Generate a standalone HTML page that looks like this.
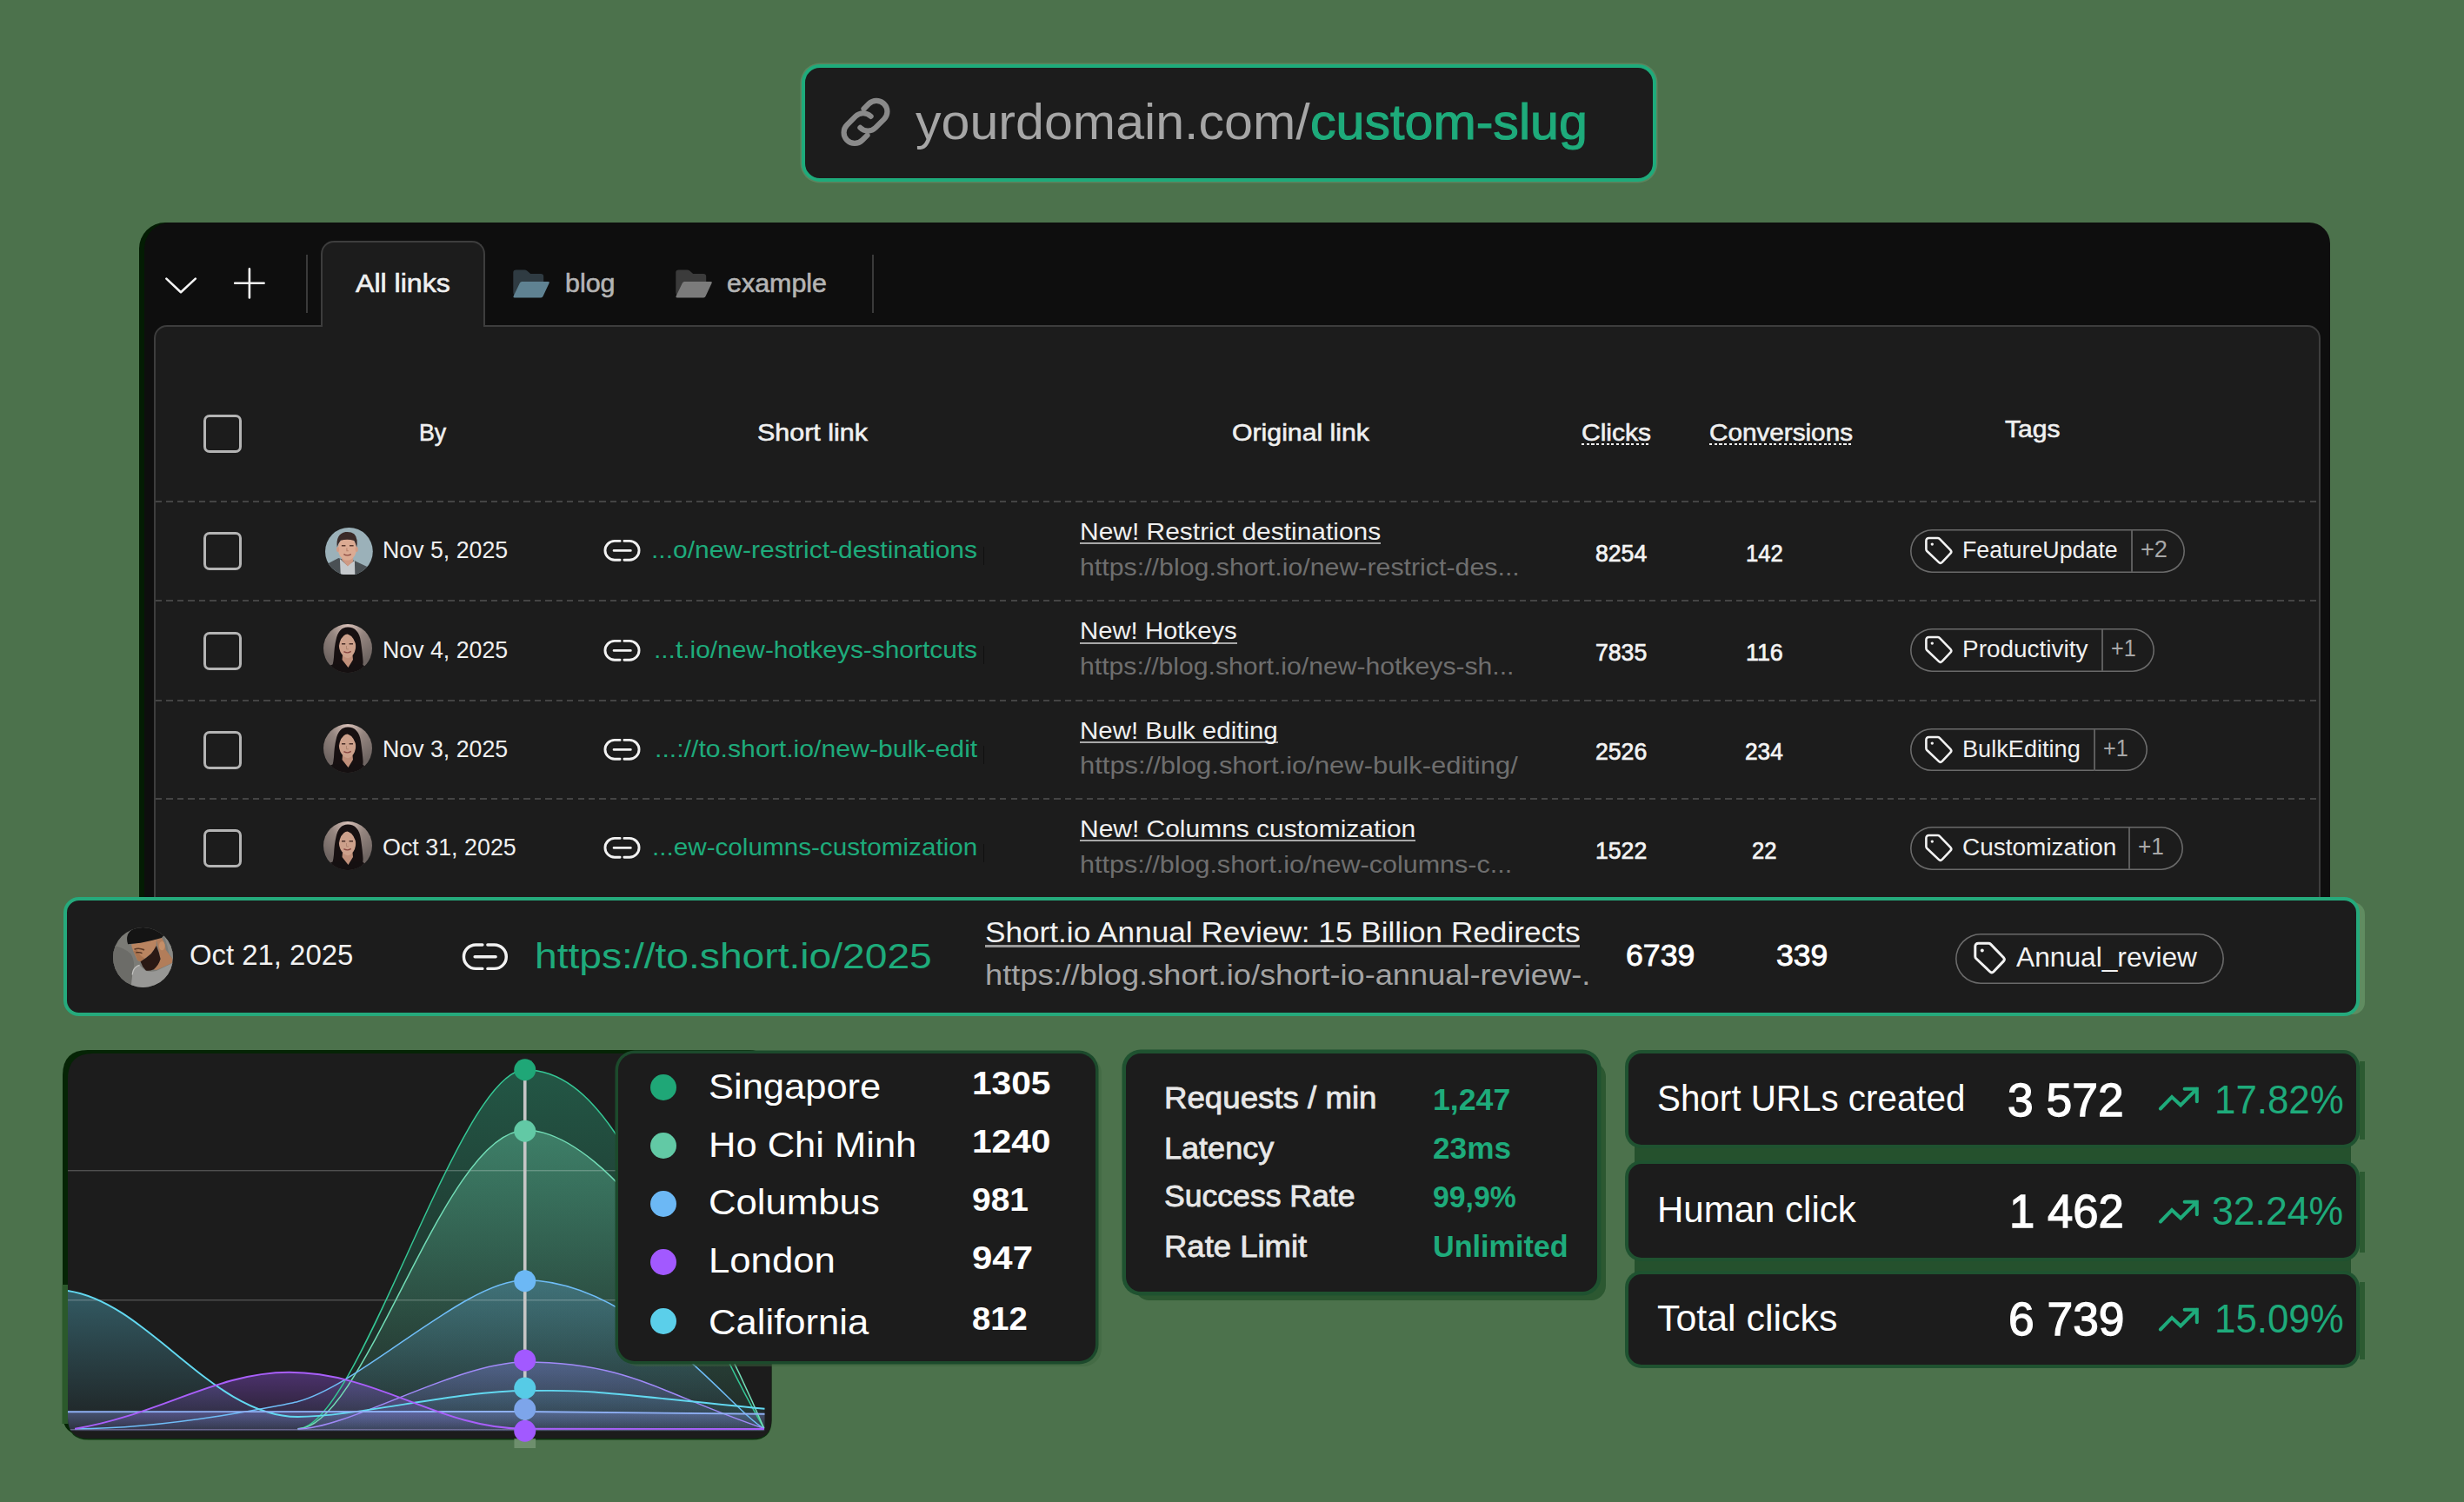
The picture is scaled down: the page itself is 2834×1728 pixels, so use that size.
<!DOCTYPE html><html><head><meta charset="utf-8"><title>Short.io</title><style>
html,body{margin:0;padding:0}
body{width:2834px;height:1728px;background:#4c724c;overflow:hidden;position:relative;font-family:"Liberation Sans",sans-serif;}
.a{position:absolute;box-sizing:border-box}
.t{position:absolute;white-space:nowrap;line-height:1;transform-origin:0 50%;display:block}
.dash{position:absolute;left:179px;width:2489px;height:2px;background:repeating-linear-gradient(90deg,#444444 0 7.4px,transparent 7.4px 12.45px)}
.cb{position:absolute;left:234px;width:44px;height:44px;border:3px solid #b4b4b4;border-radius:7px;box-sizing:border-box}
.pill{position:absolute;box-sizing:border-box;box-shadow:inset 0 0 0 1.6px #6a6a6a;border-radius:30px}
</style></head><body>
<div class="a" style="left:922.00px;top:74.00px;width:983.00px;height:134.50px;background:#1c1c1c;border:4.2px solid #1eab7b;border-radius:21px;box-shadow:0 0 0 1.5px rgba(120,170,130,0.35)"></div>
<svg class="a" style="left:964px;top:109px" width="64" height="64" viewBox="0 0 64 64"><g fill="none" stroke="#8a8a8a" stroke-width="6.2" stroke-linecap="round"><path d="M29.5 16.2L35.2 10.5A12.4 12.4 0 0 1 52.8 28.1L43 37.9A12.4 12.4 0 0 1 25.4 37.9"/><path d="M33.5 46.6L27.8 52.3A12.4 12.4 0 0 1 10.2 34.7L20 24.9A12.4 12.4 0 0 1 37.6 24.9"/></g></svg>
<div class="a" style="left:166.00px;top:256.00px;width:2514.00px;height:844.00px;background:#0e0e0e;border-radius:30px 24px 0 0;box-shadow:-6px 0 0 #031c03"></div>
<div class="a" style="left:177.00px;top:374.00px;width:2492.00px;height:726.00px;background:#1c1c1c;border:2px solid #3d3d3d;border-radius:15px 15px 0 0"></div>
<div class="a" style="left:369.00px;top:277.00px;width:189.00px;height:99.00px;background:#1c1c1c;border:2px solid #3d3d3d;border-bottom:none;border-radius:15px 15px 0 0"></div>
<div class="a" style="left:371.00px;top:373.00px;width:185.00px;height:4.00px;background:#1c1c1c"></div>
<div class="a" style="left:352.00px;top:293.00px;width:2.00px;height:67.00px;background:#3a3a3a"></div>
<div class="a" style="left:1003.00px;top:293.00px;width:2.00px;height:67.00px;background:#3a3a3a"></div>
<svg class="a" style="left:185px;top:305px" width="125" height="42" viewBox="185 305 125 42"><path d="M191.4 320.6L208 336.2L224.8 320.6M270.2 325.8H303.6M286.9 309.4V342.4" fill="none" stroke="#f4f4f4" stroke-width="2.6" stroke-linecap="round" stroke-linejoin="round"/></svg>
<svg class="a" style="left:590px;top:310px" width="44" height="34" viewBox="0 0 44 34"><path d="M0.3 3.6Q0.3 0.4 3.5 0.4H13.4Q15 0.4 16.2 1.5L20.2 4.9H32Q35.2 4.9 35.2 8.1V26Q35.2 30.8 30.4 30.8H5.1Q0.3 30.8 0.3 26Z" fill="#2f3b42"/><path d="M10.4 13.9H40.4Q42.4 13.9 41.6 15.8L34.6 30.8Q33.9 32.4 32.2 32.4H1.9Q-0.2 32.4 0.7 30.5L7.9 15.4Q8.6 13.9 10.4 13.9Z" fill="#5f8292"/></svg>
<svg class="a" style="left:777px;top:310px" width="44" height="34" viewBox="0 0 44 34"><path d="M0.3 3.6Q0.3 0.4 3.5 0.4H13.4Q15 0.4 16.2 1.5L20.2 4.9H32Q35.2 4.9 35.2 8.1V26Q35.2 30.8 30.4 30.8H5.1Q0.3 30.8 0.3 26Z" fill="#3b3b3b"/><path d="M10.4 13.9H40.4Q42.4 13.9 41.6 15.8L34.6 30.8Q33.9 32.4 32.2 32.4H1.9Q-0.2 32.4 0.7 30.5L7.9 15.4Q8.6 13.9 10.4 13.9Z" fill="#7b7b7b"/></svg>
<div class="cb" style="top:476.6px"></div>
<div class="a" style="left:1818.50px;top:509.60px;width:80.00px;height:2.60px;background:repeating-linear-gradient(90deg,#f0f0f0 0 3.1px,transparent 3.1px 5.72px)"></div>
<div class="a" style="left:1965.75px;top:509.60px;width:165.00px;height:2.60px;background:repeating-linear-gradient(90deg,#f0f0f0 0 3.1px,transparent 3.1px 5.72px)"></div>
<div class="dash" style="top:576px"></div>
<div class="dash" style="top:690px"></div>
<div class="dash" style="top:805px"></div>
<div class="dash" style="top:918px"></div>
<div class="cb" style="top:612.30px"></div>
<svg class="a" style="left:694.0px;top:620.4px" width="44" height="27" viewBox="0 0 44 27"><path d="M19.1 2.4H12.9A10.95 10.95 0 0 0 12.9 24.3H19.1M23.9 2.4H30.1A10.95 10.95 0 0 1 30.1 24.3H23.9M12.1 13.4H31.3" fill="none" stroke="#f2f2f2" stroke-width="2.9" stroke-linecap="round"/></svg>
<div class="a" style="left:1130.80px;top:629.00px;width:1.10px;height:21.00px;background:#101010"></div>
<div class="pill" style="left:2197px;top:609.10px;width:316.00px;height:49.8px"></div>
<div class="a" style="left:2451.00px;top:610.00px;width:2.00px;height:48.00px;background:#5c5c5c"></div>
<svg class="a" style="left:2213px;top:617.00px" width="34" height="34" viewBox="0 0 34 34"><path d="M2.4 5.2Q2.4 2 5.6 2H15.6Q16.9 2 17.8 2.9L30.4 15.9Q32.2 17.8 30.4 19.7L20.7 29.9Q18.8 31.8 16.9 29.9L3.3 17Q2.4 16.1 2.4 14.8Z" fill="none" stroke="#f2f2f2" stroke-width="2.6" stroke-linejoin="round"/><circle cx="9.3" cy="9.1" r="1.7" fill="#f2f2f2"/></svg>
<div class="cb" style="top:726.60px"></div>
<svg class="a" style="left:694.0px;top:734.6999999999999px" width="44" height="27" viewBox="0 0 44 27"><path d="M19.1 2.4H12.9A10.95 10.95 0 0 0 12.9 24.3H19.1M23.9 2.4H30.1A10.95 10.95 0 0 1 30.1 24.3H23.9M12.1 13.4H31.3" fill="none" stroke="#f2f2f2" stroke-width="2.9" stroke-linecap="round"/></svg>
<div class="a" style="left:1130.80px;top:743.30px;width:1.10px;height:21.00px;background:#101010"></div>
<div class="pill" style="left:2197px;top:723.40px;width:281.00px;height:49.8px"></div>
<div class="a" style="left:2417.00px;top:724.30px;width:2.00px;height:48.00px;background:#5c5c5c"></div>
<svg class="a" style="left:2213px;top:731.30px" width="34" height="34" viewBox="0 0 34 34"><path d="M2.4 5.2Q2.4 2 5.6 2H15.6Q16.9 2 17.8 2.9L30.4 15.9Q32.2 17.8 30.4 19.7L20.7 29.9Q18.8 31.8 16.9 29.9L3.3 17Q2.4 16.1 2.4 14.8Z" fill="none" stroke="#f2f2f2" stroke-width="2.6" stroke-linejoin="round"/><circle cx="9.3" cy="9.1" r="1.7" fill="#f2f2f2"/></svg>
<div class="cb" style="top:840.80px"></div>
<svg class="a" style="left:694.0px;top:848.9px" width="44" height="27" viewBox="0 0 44 27"><path d="M19.1 2.4H12.9A10.95 10.95 0 0 0 12.9 24.3H19.1M23.9 2.4H30.1A10.95 10.95 0 0 1 30.1 24.3H23.9M12.1 13.4H31.3" fill="none" stroke="#f2f2f2" stroke-width="2.9" stroke-linecap="round"/></svg>
<div class="a" style="left:1130.80px;top:857.50px;width:1.10px;height:21.00px;background:#101010"></div>
<div class="pill" style="left:2197px;top:837.60px;width:272.50px;height:49.8px"></div>
<div class="a" style="left:2408.00px;top:838.50px;width:2.00px;height:48.00px;background:#5c5c5c"></div>
<svg class="a" style="left:2213px;top:845.50px" width="34" height="34" viewBox="0 0 34 34"><path d="M2.4 5.2Q2.4 2 5.6 2H15.6Q16.9 2 17.8 2.9L30.4 15.9Q32.2 17.8 30.4 19.7L20.7 29.9Q18.8 31.8 16.9 29.9L3.3 17Q2.4 16.1 2.4 14.8Z" fill="none" stroke="#f2f2f2" stroke-width="2.6" stroke-linejoin="round"/><circle cx="9.3" cy="9.1" r="1.7" fill="#f2f2f2"/></svg>
<div class="cb" style="top:954.30px"></div>
<svg class="a" style="left:694.0px;top:962.4px" width="44" height="27" viewBox="0 0 44 27"><path d="M19.1 2.4H12.9A10.95 10.95 0 0 0 12.9 24.3H19.1M23.9 2.4H30.1A10.95 10.95 0 0 1 30.1 24.3H23.9M12.1 13.4H31.3" fill="none" stroke="#f2f2f2" stroke-width="2.9" stroke-linecap="round"/></svg>
<div class="a" style="left:1130.80px;top:971.00px;width:1.10px;height:21.00px;background:#101010"></div>
<div class="pill" style="left:2197px;top:951.10px;width:313.70px;height:49.8px"></div>
<div class="a" style="left:2448.00px;top:952.00px;width:2.00px;height:48.00px;background:#5c5c5c"></div>
<svg class="a" style="left:2213px;top:959.00px" width="34" height="34" viewBox="0 0 34 34"><path d="M2.4 5.2Q2.4 2 5.6 2H15.6Q16.9 2 17.8 2.9L30.4 15.9Q32.2 17.8 30.4 19.7L20.7 29.9Q18.8 31.8 16.9 29.9L3.3 17Q2.4 16.1 2.4 14.8Z" fill="none" stroke="#f2f2f2" stroke-width="2.6" stroke-linejoin="round"/><circle cx="9.3" cy="9.1" r="1.7" fill="#f2f2f2"/></svg>
<svg class="a" style="left:374.00px;top:606.60px" width="54.80" height="54.80" viewBox="-27.40 -27.40 54.80 54.80"><defs><clipPath id="av9"><circle cx="0" cy="0" r="27.40"/></clipPath></defs><g clip-path="url(#av9)"><rect x="-30" y="-30" width="60" height="60" fill="#9bb1b9"/><path d="M-30 17L-12 7.5L-8 9L5 10L23 18.5L30 24V30H-30Z" fill="#4a5054"/><path d="M-10.5 8.5L-2 16L6.5 10.5L7 30H-9.5Z" fill="#c5c9cc"/><path d="M-8.5 4H4.5L4.8 11.5L-1.5 17L-8 10Z" fill="#cf9a84"/><ellipse cx="-2" cy="-3.2" rx="10.6" ry="13.4" fill="#dcab93"/><ellipse cx="-12.8" cy="-2.5" rx="1.6" ry="3" fill="#d19c86"/><ellipse cx="8.8" cy="-2.5" rx="1.6" ry="3" fill="#d19c86"/><path d="M-13.6 -5Q-15.5 -20 -4 -22.4Q8 -23.4 9.2 -13Q9.6 -8 8.8 -5Q7.6 -9.5 6 -12.5Q-2 -14.5 -9.5 -12.6Q-12.4 -9.5 -13.6 -5Z" fill="#3a2a28"/><path d="M-8.5 -6.6H-4M0.6 -6.6H5.2" stroke="#5a3a30" stroke-width="1.5" fill="none"/><path d="M-6 3.2Q-2 5.8 2.4 3.2" stroke="#8a4a40" stroke-width="1.3" fill="none"/><path d="M-2.5 -4V-0.6H-0.6" stroke="#b9826c" stroke-width="1.1" fill="none"/></g></svg>
<svg class="a" style="left:372.20px;top:718.30px" width="56.00" height="56.00" viewBox="-28.00 -28.00 56.00 56.00"><defs><clipPath id="av11"><circle cx="0" cy="0" r="28.00"/></clipPath><radialGradient id="ag10" cx="0.5" cy="0.05" r="0.75"><stop offset="0" stop-color="#d8c0b8"/><stop offset="0.45" stop-color="#94857f"/><stop offset="1" stop-color="#6f6562"/></radialGradient></defs><g clip-path="url(#av11)"><rect x="-30" y="-30" width="60" height="60" fill="url(#ag10)"/><path d="M0 -24.5Q12.5 -24.5 15 -8Q17 6 17.5 14Q18 21 15 30H-22Q-17 22 -16 10Q-15.5 -2 -13.5 -10Q-10.5 -24.5 0 -24.5Z" fill="#171011"/><path d="M-30 30V26Q-22 19 -15 18H15Q22 20 26 30Z" fill="#151011"/><path d="M-6 8H5.5L6 13L0.5 22L-6.5 13Z" fill="#c08f7a"/><path d="M-0.5 -16.5Q8.8 -16 9.3 -4Q9.3 5.5 3.5 10Q0 12.3 -3.5 10Q-10 5.5 -10.2 -4Q-9.8 -16 -0.5 -16.5Z" fill="#cda08b"/><path d="M-0.8 -17Q-9 -14 -10.4 -1Q-11.5 -12 -8 -18Q-4 -21.5 -0.8 -21.5Q5 -21.5 8 -18Q11 -12 9.6 -1Q8.5 -13 -0.8 -17Z" fill="#171011"/><path d="M-7 -5.2H-2.8M1.6 -5.2H6" stroke="#4a2e28" stroke-width="1.4" fill="none"/><path d="M-4.6 3.6Q-0.4 6.2 3.8 3.4" stroke="#8c4a44" stroke-width="1.4" fill="none"/><path d="M-1.5 -3V0.8H0.8" stroke="#b08470" stroke-width="1" fill="none"/></g></svg>
<svg class="a" style="left:372.20px;top:832.80px" width="56.00" height="56.00" viewBox="-28.00 -28.00 56.00 56.00"><defs><clipPath id="av13"><circle cx="0" cy="0" r="28.00"/></clipPath><radialGradient id="ag12" cx="0.5" cy="0.05" r="0.75"><stop offset="0" stop-color="#d8c0b8"/><stop offset="0.45" stop-color="#94857f"/><stop offset="1" stop-color="#6f6562"/></radialGradient></defs><g clip-path="url(#av13)"><rect x="-30" y="-30" width="60" height="60" fill="url(#ag12)"/><path d="M0 -24.5Q12.5 -24.5 15 -8Q17 6 17.5 14Q18 21 15 30H-22Q-17 22 -16 10Q-15.5 -2 -13.5 -10Q-10.5 -24.5 0 -24.5Z" fill="#171011"/><path d="M-30 30V26Q-22 19 -15 18H15Q22 20 26 30Z" fill="#151011"/><path d="M-6 8H5.5L6 13L0.5 22L-6.5 13Z" fill="#c08f7a"/><path d="M-0.5 -16.5Q8.8 -16 9.3 -4Q9.3 5.5 3.5 10Q0 12.3 -3.5 10Q-10 5.5 -10.2 -4Q-9.8 -16 -0.5 -16.5Z" fill="#cda08b"/><path d="M-0.8 -17Q-9 -14 -10.4 -1Q-11.5 -12 -8 -18Q-4 -21.5 -0.8 -21.5Q5 -21.5 8 -18Q11 -12 9.6 -1Q8.5 -13 -0.8 -17Z" fill="#171011"/><path d="M-7 -5.2H-2.8M1.6 -5.2H6" stroke="#4a2e28" stroke-width="1.4" fill="none"/><path d="M-4.6 3.6Q-0.4 6.2 3.8 3.4" stroke="#8c4a44" stroke-width="1.4" fill="none"/><path d="M-1.5 -3V0.8H0.8" stroke="#b08470" stroke-width="1" fill="none"/></g></svg>
<svg class="a" style="left:372.20px;top:944.50px" width="56.00" height="56.00" viewBox="-28.00 -28.00 56.00 56.00"><defs><clipPath id="av15"><circle cx="0" cy="0" r="28.00"/></clipPath><radialGradient id="ag14" cx="0.5" cy="0.05" r="0.75"><stop offset="0" stop-color="#d8c0b8"/><stop offset="0.45" stop-color="#94857f"/><stop offset="1" stop-color="#6f6562"/></radialGradient></defs><g clip-path="url(#av15)"><rect x="-30" y="-30" width="60" height="60" fill="url(#ag14)"/><path d="M0 -24.5Q12.5 -24.5 15 -8Q17 6 17.5 14Q18 21 15 30H-22Q-17 22 -16 10Q-15.5 -2 -13.5 -10Q-10.5 -24.5 0 -24.5Z" fill="#171011"/><path d="M-30 30V26Q-22 19 -15 18H15Q22 20 26 30Z" fill="#151011"/><path d="M-6 8H5.5L6 13L0.5 22L-6.5 13Z" fill="#c08f7a"/><path d="M-0.5 -16.5Q8.8 -16 9.3 -4Q9.3 5.5 3.5 10Q0 12.3 -3.5 10Q-10 5.5 -10.2 -4Q-9.8 -16 -0.5 -16.5Z" fill="#cda08b"/><path d="M-0.8 -17Q-9 -14 -10.4 -1Q-11.5 -12 -8 -18Q-4 -21.5 -0.8 -21.5Q5 -21.5 8 -18Q11 -12 9.6 -1Q8.5 -13 -0.8 -17Z" fill="#171011"/><path d="M-7 -5.2H-2.8M1.6 -5.2H6" stroke="#4a2e28" stroke-width="1.4" fill="none"/><path d="M-4.6 3.6Q-0.4 6.2 3.8 3.4" stroke="#8c4a44" stroke-width="1.4" fill="none"/><path d="M-1.5 -3V0.8H0.8" stroke="#b08470" stroke-width="1" fill="none"/></g></svg>
<div class="a" style="left:1241.75px;top:624.40px;width:346.25px;height:2.00px;background:#a8a8a8"></div>
<div class="a" style="left:1241.75px;top:738.70px;width:180.75px;height:2.00px;background:#a8a8a8"></div>
<div class="a" style="left:1241.75px;top:852.90px;width:227.75px;height:2.00px;background:#a8a8a8"></div>
<div class="a" style="left:1241.75px;top:966.40px;width:386.25px;height:2.00px;background:#a8a8a8"></div>
<div class="a" style="left:73.00px;top:1031.50px;width:2641.00px;height:137.50px;background:#1c1c1c;border:4px solid #25aa7c;border-radius:18px;box-shadow:10px 2px 0 -4px rgba(115,165,115,0.5)"></div>
<div class="a" style="left:1132.50px;top:1087.00px;width:684.50px;height:2.50px;background:#9c9c9c"></div>
<svg class="a" style="left:531.0px;top:1083.6px" width="55" height="33.75" viewBox="0 0 44 27"><path d="M19.1 2.4H12.9A10.95 10.95 0 0 0 12.9 24.3H19.1M23.9 2.4H30.1A10.95 10.95 0 0 1 30.1 24.3H23.9M12.1 13.4H31.3" fill="none" stroke="#f2f2f2" stroke-width="2.75" stroke-linecap="round"/></svg>
<div class="pill" style="left:2249px;top:1073.5px;width:308.5px;height:58px;border-color:#656565"></div>
<svg class="a" style="left:2268.5px;top:1083px" width="39.5" height="39.5" viewBox="0 0 34 34"><path d="M2.4 5.2Q2.4 2 5.6 2H15.6Q16.9 2 17.8 2.9L30.4 15.9Q32.2 17.8 30.4 19.7L20.7 29.9Q18.8 31.8 16.9 29.9L3.3 17Q2.4 16.1 2.4 14.8Z" fill="none" stroke="#f2f2f2" stroke-width="2.6" stroke-linejoin="round"/><circle cx="9.3" cy="9.1" r="1.7" fill="#f2f2f2"/></svg>
<svg class="a" style="left:130.10px;top:1066.50px" width="69.00" height="69.00" viewBox="-34.50 -34.50 69.00 69.00"><defs><clipPath id="av16"><circle cx="0" cy="0" r="34.50"/></clipPath></defs><g clip-path="url(#av16)"><rect x="-36" y="-36" width="72" height="72" fill="#7b7b76"/><path d="M-36 -14Q-22 -12 -14 -4Q-9 4 -11 14L-14 36H-36Z" fill="#6c6c68"/><path d="M24 -26L36 -20V4L30 -4Q28 -14 24 -26Z" fill="#8a8a86"/><path d="M15.3 -21L21.3 -22.8Q25.5 -17 26.1 -9L33.9 1.8L33.3 6.6L15.3 14.4L12.3 13.8L20.1 1.8Z" fill="#b27d5a"/><path d="M-13.5 -15L15.3 -21V-12.6L9.3 -4.2L-2.7 4.8L-6.3 3.6Q-9 -2 -11.1 -7.2Q-12.8 -11 -13.5 -15Z" fill="#b98460"/><path d="M-11.1 -7.2Q-8 -2 -6.3 3.6L-2.7 4.8L2 1Q-4 -2 -7 -9Z" fill="#a8734f"/><ellipse cx="21.8" cy="-13.4" rx="3.4" ry="5.2" fill="#c58f68"/><path d="M15.3 -13.5Q18.5 -6 20.1 1.8Q18 9 12.3 13.8Q7 16 3.3 15Q-1 11 -2.9 4.8Q3 1.5 9.3 -4.2Q13 -9 15.3 -13.5Z" fill="#2a1914"/><path d="M-10 -9.3Q-5 -11.5 1.5 -8.6" stroke="#5d3b27" stroke-width="1.7" fill="none"/><path d="M-8.2 -5.6Q-4.5 -6.6 -1 -4.8" stroke="#4a2c1e" stroke-width="1.3" fill="none"/><path d="M-18.3 -23.4Q-17.5 -30 -10 -33.5Q2 -36.5 12.3 -33Q20 -30.5 24.3 -25.8L21.3 -22.4Q10 -19 -2.7 -16.8L-17.4 -15.2Q-18.8 -19 -18.3 -23.4Z" fill="#141414"/><path d="M-14 36L-12.3 19.8Q-11.5 13.5 -8.7 11.4Q-6 9 -3.9 9Q0 13.5 3.3 15.6Q9 17 15.3 15.6L33.9 6.6L36 8V36Z" fill="#979795"/><path d="M-12.3 19.8Q-11.5 13.5 -8.7 11.4Q-6 9 -3.9 9" stroke="#c2c2c0" stroke-width="1.3" fill="none"/></g></svg>
<svg class="a" style="left:60px;top:1195px" width="850" height="490" viewBox="60 1195 850 490"><defs><clipPath id="cp"><path d="M107.0 1212.0H867.5Q887.5 1212.0 887.5 1232.0V1633.0Q887.5 1655.0 865.5 1655.0H102.0Q78.0 1655.0 78.0 1631.0V1241.0Q78.0 1212.0 107.0 1212.0Z"/></clipPath><linearGradient id="f_g1" gradientUnits="userSpaceOnUse" x1="0" y1="1230.8" x2="0" y2="1646.3"><stop offset="0" stop-color="#2fbf8f" stop-opacity="0.36"/><stop offset="1" stop-color="#2fbf8f" stop-opacity="0.03"/></linearGradient><linearGradient id="f_g2" gradientUnits="userSpaceOnUse" x1="0" y1="1300.5" x2="0" y2="1646.3"><stop offset="0" stop-color="#6fd6b0" stop-opacity="0.36"/><stop offset="1" stop-color="#6fd6b0" stop-opacity="0.03"/></linearGradient><linearGradient id="f_bl" gradientUnits="userSpaceOnUse" x1="0" y1="1472.8" x2="0" y2="1646.3"><stop offset="0" stop-color="#6cb8f5" stop-opacity="0.28"/><stop offset="1" stop-color="#6cb8f5" stop-opacity="0.03"/></linearGradient><linearGradient id="f_pb" gradientUnits="userSpaceOnUse" x1="0" y1="1567.0" x2="0" y2="1646.3"><stop offset="0" stop-color="#8f86f5" stop-opacity="0.34"/><stop offset="1" stop-color="#8f86f5" stop-opacity="0.05"/></linearGradient><linearGradient id="f_cy" gradientUnits="userSpaceOnUse" x1="0" y1="1485.0" x2="0" y2="1646.3"><stop offset="0" stop-color="#5fd4ee" stop-opacity="0.34"/><stop offset="1" stop-color="#5fd4ee" stop-opacity="0.03"/></linearGradient><linearGradient id="f_pw" gradientUnits="userSpaceOnUse" x1="0" y1="1624.0" x2="0" y2="1646.3"><stop offset="0" stop-color="#8a9cf0" stop-opacity="0.36"/><stop offset="1" stop-color="#8a9cf0" stop-opacity="0.12"/></linearGradient><linearGradient id="f_pa" gradientUnits="userSpaceOnUse" x1="0" y1="1578.8" x2="0" y2="1646.3"><stop offset="0" stop-color="#a259ff" stop-opacity="0.36"/><stop offset="1" stop-color="#a259ff" stop-opacity="0.03"/></linearGradient></defs><path d="M107.0 1212.0H867.5Q887.5 1212.0 887.5 1232.0V1633.0Q887.5 1655.0 865.5 1655.0H102.0Q78.0 1655.0 78.0 1631.0V1241.0Q78.0 1212.0 107.0 1212.0Z" transform="translate(-6,-4)" fill="#052405"/><rect x="71.5" y="1478" width="8" height="160" fill="#2b592b"/><path d="M107.0 1212.0H867.5Q887.5 1212.0 887.5 1232.0V1633.0Q887.5 1655.0 865.5 1655.0H102.0Q78.0 1655.0 78.0 1631.0V1241.0Q78.0 1212.0 107.0 1212.0Z" transform="translate(0,1.5)" fill="#0c330e"/><path d="M107.0 1212.0H867.5Q887.5 1212.0 887.5 1232.0V1633.0Q887.5 1655.0 865.5 1655.0H102.0Q78.0 1655.0 78.0 1631.0V1241.0Q78.0 1212.0 107.0 1212.0Z" fill="#1c1c1c"/><g clip-path="url(#cp)"><path d="M342.5 1643.8C412.6 1643.8 527.6 1230.8 603.8 1230.8C719.6 1230.8 772.4 1460.1 878.8 1643.4L878.8 1646.3L342.5 1646.3Z" fill="url(#f_g1)"/><path d="M342.5 1643.8C419.8 1643.8 510.8 1300.5 603.8 1300.5C603.8 1300.5 723.6 1281.2 878.8 1643.4L878.8 1646.3L342.5 1646.3Z" fill="url(#f_g2)"/><path d="M86.2 1643.8C199.5 1643.8 336.4 1614.2 342.5 1612.5C417.7 1591.9 534.6 1472.8 603.8 1472.8C732.5 1472.8 844.9 1626.4 878.8 1643.4L878.8 1646.3L86.2 1646.3Z" fill="url(#f_bl)"/><path d="M342.5 1644.0C400.5 1644.0 525.3 1567.0 603.8 1567.0C723.1 1567.0 761.1 1603.9 878.8 1643.4L878.8 1646.3L342.5 1646.3Z" fill="url(#f_pb)"/><path d="M78.0 1485.0C171.7 1499.1 243.5 1630.0 342.5 1630.0C407.5 1630.0 527.5 1600.0 603.8 1600.0C680.7 1600.0 638.6 1596.5 879.5 1620.8L879.5 1646.3L78.0 1646.3Z" fill="url(#f_cy)"/><path d="M78.0 1624.2L603.8 1624.0L879.5 1626.8L879.5 1646.3L78.0 1646.3Z" fill="url(#f_pw)"/><path d="M86.2 1643.8C184.4 1627.4 249.1 1578.8 332.5 1578.8C434.7 1578.8 504.4 1643.8 603.8 1643.8L878.8 1644.0L878.8 1646.3L86.2 1646.3Z" fill="url(#f_pa)"/><rect x="78.0" y="1346.15" width="809.5" height="1.2" fill="#ffffff" fill-opacity="0.27"/><rect x="78.0" y="1495.15" width="809.5" height="1.2" fill="#ffffff" fill-opacity="0.27"/><rect x="78.0" y="1644.1" width="800.5" height="1.2" fill="#b0a0e0" fill-opacity="0.5"/><path d="M342.5 1643.8C412.6 1643.8 527.6 1230.8 603.8 1230.8C719.6 1230.8 772.4 1460.1 878.8 1643.4" fill="none" stroke="#35c795" stroke-width="1.5"/><path d="M342.5 1643.8C419.8 1643.8 510.8 1300.5 603.8 1300.5C603.8 1300.5 723.6 1281.2 878.8 1643.4" fill="none" stroke="#72dcb6" stroke-width="1.5"/><path d="M86.2 1643.8C199.5 1643.8 336.4 1614.2 342.5 1612.5C417.7 1591.9 534.6 1472.8 603.8 1472.8C732.5 1472.8 844.9 1626.4 878.8 1643.4" fill="none" stroke="#6fbdf7" stroke-width="1.5"/><path d="M342.5 1644.0C400.5 1644.0 525.3 1567.0 603.8 1567.0C723.1 1567.0 761.1 1603.9 878.8 1643.4" fill="none" stroke="#a08af8" stroke-width="1.5"/><path d="M78.0 1485.0C171.7 1499.1 243.5 1630.0 342.5 1630.0C407.5 1630.0 527.5 1600.0 603.8 1600.0C680.7 1600.0 638.6 1596.5 879.5 1620.8" fill="none" stroke="#62d8f0" stroke-width="1.9"/><path d="M78.0 1624.2L603.8 1624.0L879.5 1626.8" fill="none" stroke="#8fb0f5" stroke-width="1.9"/><path d="M86.2 1643.8C184.4 1627.4 249.1 1578.8 332.5 1578.8C434.7 1578.8 504.4 1643.8 603.8 1643.8L878.8 1644.0" fill="none" stroke="#a95ffb" stroke-width="1.9"/></g><rect x="601.95" y="1232" width="3.6" height="423.0" fill="#c6c6c6"/><rect x="591.45" y="1655.0" width="24.6" height="11" fill="#7a9a78" fill-opacity="0.75"/><circle cx="603.75" cy="1230.75" r="12.5" fill="#1fa777"/><circle cx="603.75" cy="1301.25" r="12.5" fill="#62c9a5"/><circle cx="603.75" cy="1473.75" r="12.5" fill="#6cb8f5"/><circle cx="603.75" cy="1565.0" r="12.5" fill="#a259ff"/><circle cx="603.75" cy="1597.0" r="12.5" fill="#56cbe6"/><circle cx="603.75" cy="1621.25" r="12.5" fill="#7da5ea"/><circle cx="603.75" cy="1646.25" r="12.5" fill="#a259ff"/></svg>
<div class="a" style="left:711.25px;top:1212.00px;width:548.75px;height:354.25px;background:#1c1c1c;border-radius:19px;box-shadow:0 0 0 3.5px #1c4a2c,5px 4px 0 2px rgba(60,100,62,0.5)"></div>
<div class="a" style="left:747.75px;top:1235.75px;width:30.00px;height:30.00px;background:#1fa777;border-radius:50%"></div>
<div class="a" style="left:747.75px;top:1302.50px;width:30.00px;height:30.00px;background:#62c9a5;border-radius:50%"></div>
<div class="a" style="left:747.75px;top:1370.00px;width:30.00px;height:30.00px;background:#6cb8f5;border-radius:50%"></div>
<div class="a" style="left:747.75px;top:1437.20px;width:30.00px;height:30.00px;background:#a259ff;border-radius:50%"></div>
<div class="a" style="left:747.75px;top:1504.60px;width:30.00px;height:30.00px;background:#5bcfea;border-radius:50%"></div>
<div class="a" style="left:1295.00px;top:1212.00px;width:542.00px;height:273.75px;background:#1c1c1c;border-radius:17px;box-shadow:0 0 0 4.5px #1f5230,10px 10px 0 0 #2c5831"></div>
<div class="a" style="left:1880.00px;top:1232.00px;width:824.00px;height:328.00px;background:#25512d;border-radius:12px"></div>
<div class="a" style="left:1872.50px;top:1212.00px;width:837.50px;height:104.75px;background:#1c1c1c;border-radius:15px;box-shadow:0 0 0 4px #1f5230"></div>
<div class="a" style="left:1872.50px;top:1338.75px;width:837.50px;height:108.00px;background:#1c1c1c;border-radius:15px;box-shadow:0 0 0 4px #1f5230"></div>
<div class="a" style="left:1872.50px;top:1465.50px;width:837.50px;height:104.30px;background:#1c1c1c;border-radius:15px;box-shadow:0 0 0 4px #1f5230"></div>
<div class="a" style="left:2713.50px;top:1221.00px;width:6.50px;height:89.75px;background:#2c5a31"></div>
<div class="a" style="left:2713.50px;top:1347.75px;width:6.50px;height:93.00px;background:#2c5a31"></div>
<div class="a" style="left:2713.50px;top:1474.50px;width:6.50px;height:89.30px;background:#2c5a31"></div>
<svg class="a" style="left:2480px;top:1249.25px" width="52" height="32" viewBox="0 0 52 32"><path d="M4.9 26.5L18 13L28.1 22.5L46.8 3.7M32.6 3.7H46.8V18.2" fill="none" stroke="#1eab7b" stroke-width="4" stroke-linecap="round" stroke-linejoin="miter"/></svg>
<svg class="a" style="left:2480px;top:1379.25px" width="52" height="32" viewBox="0 0 52 32"><path d="M4.9 26.5L18 13L28.1 22.5L46.8 3.7M32.6 3.7H46.8V18.2" fill="none" stroke="#1eab7b" stroke-width="4" stroke-linecap="round" stroke-linejoin="miter"/></svg>
<svg class="a" style="left:2480px;top:1502.50px" width="52" height="32" viewBox="0 0 52 32"><path d="M4.9 26.5L18 13L28.1 22.5L46.8 3.7M32.6 3.7H46.8V18.2" fill="none" stroke="#1eab7b" stroke-width="4" stroke-linecap="round" stroke-linejoin="miter"/></svg>
<span class="t" style="top:110.70px;font-size:58px;color:#a6a6a6;left:1053.40px;transform:scaleX(1.0199);">yourdomain.com/</span>
<span class="t" style="top:110.70px;font-size:58px;color:#1eab7b;-webkit-text-stroke:1.1px #1eab7b;left:1507.12px;transform:scaleX(1.0199);">custom-slug</span>
<span class="t" style="top:311.28px;font-size:29.5px;color:#f0f0f0;-webkit-text-stroke:0.6px #f0f0f0;left:408.75px;transform:scaleX(1.0875);">All links</span>
<span class="t" style="top:311.28px;font-size:29.5px;color:#b4b4b4;-webkit-text-stroke:0.6px #b4b4b4;left:650.00px;transform:scaleX(1.0308);">blog</span>
<span class="t" style="top:311.28px;font-size:29.5px;color:#b4b4b4;-webkit-text-stroke:0.6px #b4b4b4;left:836.00px;transform:scaleX(1.0312);">example</span>
<span class="t" style="top:484.10px;font-size:28px;color:#f0f0f0;-webkit-text-stroke:0.6px #f0f0f0;left:481.75px;transform:scaleX(0.9560);">By</span>
<span class="t" style="top:484.10px;font-size:28px;color:#f0f0f0;-webkit-text-stroke:0.6px #f0f0f0;left:871.00px;transform:scaleX(1.0881);">Short link</span>
<span class="t" style="top:484.10px;font-size:28px;color:#f0f0f0;-webkit-text-stroke:0.6px #f0f0f0;left:1417.00px;transform:scaleX(1.0801);">Original link</span>
<span class="t" style="top:484.10px;font-size:28px;color:#f0f0f0;-webkit-text-stroke:0.6px #f0f0f0;left:1818.50px;transform:scaleX(1.0714);">Clicks</span>
<span class="t" style="top:484.10px;font-size:28px;color:#f0f0f0;-webkit-text-stroke:0.6px #f0f0f0;left:1965.75px;transform:scaleX(1.0601);">Conversions</span>
<span class="t" style="top:480.05px;font-size:28px;color:#f0f0f0;-webkit-text-stroke:0.6px #f0f0f0;left:2306.00px;transform:scaleX(1.0734);">Tags</span>
<span class="t" style="top:619.30px;font-size:28px;color:#f0f0f0;left:439.50px;transform:scaleX(0.9553);">Nov 5, 2025</span>
<span class="t" style="top:619.30px;font-size:28px;color:#1eab7b;left:748.75px;transform:scaleX(1.0710);">...o/new-restrict-destinations</span>
<span class="t" style="top:598.10px;font-size:28px;color:#f0f0f0;left:1241.75px;transform:scaleX(1.0697);">New! Restrict destinations</span>
<span class="t" style="top:638.80px;font-size:28px;color:#6e6e6e;left:1241.75px;transform:scaleX(1.0833);">https://blog.short.io/new-restrict-des...</span>
<span class="t" style="top:622.92px;font-size:27.5px;color:#f4f4f4;-webkit-text-stroke:0.7px #f4f4f4;left:1835.00px;transform:scaleX(0.9683);">8254</span>
<span class="t" style="top:622.92px;font-size:27.5px;color:#f4f4f4;-webkit-text-stroke:0.7px #f4f4f4;left:2008.00px;transform:scaleX(0.9316);">142</span>
<span class="t" style="top:620.14px;font-size:27px;color:#f0f0f0;left:2256.75px;transform:scaleX(0.9924);">FeatureUpdate</span>
<span class="t" style="top:619.14px;font-size:27px;color:#a8a8a8;left:2462.00px;transform:scaleX(1.0066);">+2</span>
<span class="t" style="top:733.60px;font-size:28px;color:#f0f0f0;left:439.50px;transform:scaleX(0.9553);">Nov 4, 2025</span>
<span class="t" style="top:733.60px;font-size:28px;color:#1eab7b;left:751.75px;transform:scaleX(1.0672);">...t.io/new-hotkeys-shortcuts</span>
<span class="t" style="top:712.40px;font-size:28px;color:#f0f0f0;left:1241.75px;transform:scaleX(1.0465);">New! Hotkeys</span>
<span class="t" style="top:753.10px;font-size:28px;color:#6e6e6e;left:1241.75px;transform:scaleX(1.0770);">https://blog.short.io/new-hotkeys-sh...</span>
<span class="t" style="top:737.22px;font-size:27.5px;color:#f4f4f4;-webkit-text-stroke:0.7px #f4f4f4;left:1835.00px;transform:scaleX(0.9683);">7835</span>
<span class="t" style="top:737.22px;font-size:27.5px;color:#f4f4f4;-webkit-text-stroke:0.7px #f4f4f4;left:2008.00px;transform:scaleX(0.9751);">116</span>
<span class="t" style="top:734.44px;font-size:27px;color:#f0f0f0;left:2256.75px;transform:scaleX(1.0354);">Productivity</span>
<span class="t" style="top:733.44px;font-size:27px;color:#a8a8a8;left:2427.50px;transform:scaleX(0.9335);">+1</span>
<span class="t" style="top:847.80px;font-size:28px;color:#f0f0f0;left:439.50px;transform:scaleX(0.9553);">Nov 3, 2025</span>
<span class="t" style="top:847.80px;font-size:28px;color:#1eab7b;left:752.50px;transform:scaleX(1.0794);">...://to.short.io/new-bulk-edit</span>
<span class="t" style="top:826.60px;font-size:28px;color:#f0f0f0;left:1241.75px;transform:scaleX(1.0527);">New! Bulk editing</span>
<span class="t" style="top:867.30px;font-size:28px;color:#6e6e6e;left:1241.75px;transform:scaleX(1.1046);">https://blog.short.io/new-bulk-editing/</span>
<span class="t" style="top:851.42px;font-size:27.5px;color:#f4f4f4;-webkit-text-stroke:0.7px #f4f4f4;left:1835.00px;transform:scaleX(0.9683);">2526</span>
<span class="t" style="top:851.42px;font-size:27.5px;color:#f4f4f4;-webkit-text-stroke:0.7px #f4f4f4;left:2007.00px;transform:scaleX(0.9534);">234</span>
<span class="t" style="top:848.64px;font-size:27px;color:#f0f0f0;left:2256.75px;transform:scaleX(1.0049);">BulkEditing</span>
<span class="t" style="top:847.64px;font-size:27px;color:#a8a8a8;left:2419.25px;transform:scaleX(0.9335);">+1</span>
<span class="t" style="top:961.30px;font-size:28px;color:#f0f0f0;left:439.50px;transform:scaleX(0.9589);">Oct 31, 2025</span>
<span class="t" style="top:961.30px;font-size:28px;color:#1eab7b;left:749.50px;transform:scaleX(1.0595);">...ew-columns-customization</span>
<span class="t" style="top:940.10px;font-size:28px;color:#f0f0f0;left:1241.75px;transform:scaleX(1.0699);">New! Columns customization</span>
<span class="t" style="top:980.80px;font-size:28px;color:#6e6e6e;left:1241.75px;transform:scaleX(1.0905);">https://blog.short.io/new-columns-c...</span>
<span class="t" style="top:964.92px;font-size:27.5px;color:#f4f4f4;-webkit-text-stroke:0.7px #f4f4f4;left:1835.00px;transform:scaleX(0.9683);">1522</span>
<span class="t" style="top:964.92px;font-size:27.5px;color:#f4f4f4;-webkit-text-stroke:0.7px #f4f4f4;left:2015.00px;transform:scaleX(0.9316);">22</span>
<span class="t" style="top:962.14px;font-size:27px;color:#f0f0f0;left:2256.75px;transform:scaleX(1.0361);">Customization</span>
<span class="t" style="top:961.14px;font-size:27px;color:#a8a8a8;left:2459.00px;transform:scaleX(0.9741);">+1</span>
<span class="t" style="top:1081.64px;font-size:33.5px;color:#f2f2f2;left:218.00px;transform:scaleX(0.9813);">Oct 21, 2025</span>
<span class="t" style="top:1078.62px;font-size:41.5px;color:#1eab7b;left:614.50px;transform:scaleX(1.1122);">https://to.short.io/2025</span>
<span class="t" style="top:1056.32px;font-size:33px;color:#f2f2f2;left:1132.50px;transform:scaleX(1.0662);">Short.io Annual Review: 15 Billion Redirects</span>
<span class="t" style="top:1105.32px;font-size:33px;color:#a4a4a4;left:1132.50px;transform:scaleX(1.0971);">https://blog.short.io/short-io-annual-review-.</span>
<span class="t" style="top:1082.05px;font-size:34.5px;color:#ffffff;-webkit-text-stroke:0.9px #ffffff;left:1869.50px;transform:scaleX(1.0326);">6739</span>
<span class="t" style="top:1082.05px;font-size:34.5px;color:#ffffff;-webkit-text-stroke:0.9px #ffffff;left:2042.50px;transform:scaleX(1.0293);">339</span>
<span class="t" style="top:1086.34px;font-size:31.5px;color:#f2f2f2;left:2318.75px;transform:scaleX(1.0066);">Annual_review</span>
<span class="t" style="top:1228.62px;font-size:41.5px;color:#ffffff;left:815.00px;transform:scaleX(1.0478);">Singapore</span>
<span class="t" style="top:1227.76px;font-size:37.5px;color:#ffffff;font-weight:700;left:1117.50px;transform:scaleX(1.0846);">1305</span>
<span class="t" style="top:1295.62px;font-size:41.5px;color:#ffffff;left:815.00px;transform:scaleX(1.0478);">Ho Chi Minh</span>
<span class="t" style="top:1294.51px;font-size:37.5px;color:#ffffff;font-weight:700;left:1117.50px;transform:scaleX(1.0846);">1240</span>
<span class="t" style="top:1362.37px;font-size:41.5px;color:#ffffff;left:815.00px;transform:scaleX(1.0530);">Columbus</span>
<span class="t" style="top:1361.51px;font-size:37.5px;color:#ffffff;font-weight:700;left:1117.50px;transform:scaleX(1.0387);">981</span>
<span class="t" style="top:1429.37px;font-size:41.5px;color:#ffffff;left:815.00px;transform:scaleX(1.0525);">London</span>
<span class="t" style="top:1428.76px;font-size:37.5px;color:#ffffff;font-weight:700;left:1117.50px;transform:scaleX(1.1186);">947</span>
<span class="t" style="top:1499.62px;font-size:41.5px;color:#ffffff;left:815.00px;transform:scaleX(1.0510);">California</span>
<span class="t" style="top:1499.01px;font-size:37.5px;color:#ffffff;font-weight:700;left:1117.50px;transform:scaleX(1.0187);">812</span>
<span class="t" style="top:1244.87px;font-size:35px;color:#e8e8e8;-webkit-text-stroke:0.8px #e8e8e8;left:1338.75px;transform:scaleX(1.0474);">Requests / min</span>
<span class="t" style="top:1247.37px;font-size:35px;color:#1eab7b;font-weight:700;left:1647.50px;transform:scaleX(1.0189);">1,247</span>
<span class="t" style="top:1302.87px;font-size:35px;color:#e8e8e8;-webkit-text-stroke:0.8px #e8e8e8;left:1338.75px;transform:scaleX(1.0298);">Latency</span>
<span class="t" style="top:1302.87px;font-size:35px;color:#1eab7b;font-weight:700;left:1647.50px;transform:scaleX(1.0052);">23ms</span>
<span class="t" style="top:1357.87px;font-size:35px;color:#e8e8e8;-webkit-text-stroke:0.8px #e8e8e8;left:1338.75px;transform:scaleX(1.0165);">Success Rate</span>
<span class="t" style="top:1359.12px;font-size:35px;color:#1eab7b;font-weight:700;left:1647.50px;transform:scaleX(0.9647);">99,9%</span>
<span class="t" style="top:1416.12px;font-size:35px;color:#e8e8e8;-webkit-text-stroke:0.8px #e8e8e8;left:1338.75px;transform:scaleX(1.0424);">Rate Limit</span>
<span class="t" style="top:1416.12px;font-size:35px;color:#1eab7b;font-weight:700;left:1647.50px;transform:scaleX(0.9768);">Unlimited</span>
<span class="t" style="top:1243.20px;font-size:42px;color:#ffffff;left:1906.25px;transform:scaleX(0.9611);">Short URLs created</span>
<span class="t" style="top:1238.04px;font-size:54px;color:#ffffff;-webkit-text-stroke:1.3px #ffffff;left:2309.25px;transform:scaleX(0.9897);">3 572</span>
<span class="t" style="top:1242.31px;font-size:46px;color:#1eab7b;left:2546.75px;transform:scaleX(0.9534);">17.82%</span>
<span class="t" style="top:1371.45px;font-size:42px;color:#ffffff;left:1906.25px;transform:scaleX(1.0001);">Human click</span>
<span class="t" style="top:1365.54px;font-size:54px;color:#ffffff;-webkit-text-stroke:1.3px #ffffff;left:2311.25px;transform:scaleX(0.9749);">1 462</span>
<span class="t" style="top:1370.31px;font-size:46px;color:#1eab7b;left:2544.25px;transform:scaleX(0.9695);">32.24%</span>
<span class="t" style="top:1495.70px;font-size:42px;color:#ffffff;left:1906.25px;transform:scaleX(1.0219);">Total clicks</span>
<span class="t" style="top:1490.04px;font-size:54px;color:#ffffff;-webkit-text-stroke:1.3px #ffffff;left:2309.50px;transform:scaleX(0.9879);">6 739</span>
<span class="t" style="top:1493.56px;font-size:46px;color:#1eab7b;left:2546.75px;transform:scaleX(0.9534);">15.09%</span>
</body></html>
